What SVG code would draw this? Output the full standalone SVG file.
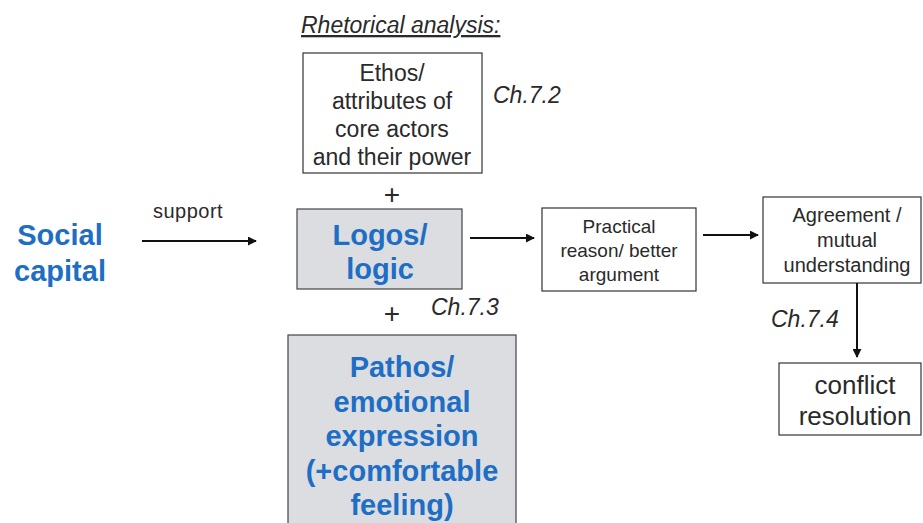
<svg xmlns="http://www.w3.org/2000/svg" width="923" height="523" viewBox="0 0 923 523">
  <defs>
    <marker id="arrow" viewBox="0 0 10 10" refX="9" refY="5" markerWidth="9" markerHeight="9" markerUnits="userSpaceOnUse" orient="auto">
      <path d="M0,0 L10,5 L0,10 z" fill="#111"/>
    </marker>
    <style>
      text { font-family: "Liberation Sans", Arial, sans-serif; fill: #2a2a2a; text-anchor: middle; }
      .box { fill: #ffffff; stroke: #333; stroke-width: 1.2; }
      .gray { fill: #dcdde0; stroke: #444; stroke-width: 1.2; }
      .blue { fill: #1d6ec4; font-weight: bold; font-size: 29px; }
      .ital { font-style: italic; font-size: 23px; text-anchor: start; }
      .conn { stroke: #111; stroke-width: 2; fill: none; marker-end: url(#arrow); }
    </style>
  </defs>

  <!-- heading -->
  <text x="301" y="33" class="ital" font-size="22" text-decoration="underline">Rhetorical analysis:</text>

  <g id="social-capital">
    <text x="60" y="245" class="blue">Social</text>
    <text x="60" y="281" class="blue">capital</text>
  </g>

  <g id="ethos">
    <rect x="303" y="53" width="179" height="120" class="box"/>
    <text x="392" y="81" font-size="23">Ethos/</text>
    <text x="392" y="109" font-size="23">attributes of</text>
    <text x="392" y="137" font-size="23">core actors</text>
    <text x="392" y="165" font-size="23">and their power</text>
  </g>
  <text x="493" y="103" class="ital">Ch.7.2</text>

  <text x="392" y="204" font-size="28">+</text>

  <g id="logos">
    <rect x="297" y="209" width="165" height="80" class="gray"/>
    <text x="380" y="245" class="blue">Logos/</text>
    <text x="380" y="279" class="blue">logic</text>
  </g>

  <text x="392" y="323" font-size="28">+</text>
  <text x="431" y="315" class="ital">Ch.7.3</text>

  <g id="pathos">
    <rect x="288" y="335" width="228" height="200" class="gray"/>
    <text x="402" y="377" class="blue" font-size="30">Pathos/</text>
    <text x="402" y="412" class="blue" font-size="30">emotional</text>
    <text x="402" y="446" class="blue" font-size="30">expression</text>
    <text x="402" y="481" class="blue" font-size="30">(+comfortable</text>
    <text x="402" y="515" class="blue" font-size="30">feeling)</text>
  </g>

  <g id="practical">
    <rect x="542" y="208" width="154" height="83" class="box"/>
    <text x="619" y="233" font-size="19">Practical</text>
    <text x="619" y="257" font-size="19">reason/ better</text>
    <text x="619" y="281" font-size="19">argument</text>
  </g>

  <g id="agreement">
    <rect x="763" y="197" width="158" height="86" class="box"/>
    <text x="847" y="222" font-size="20">Agreement /</text>
    <text x="847" y="247" font-size="20">mutual</text>
    <text x="847" y="272" font-size="20">understanding</text>
  </g>
  <text x="771" y="327" class="ital">Ch.7.4</text>

  <g id="conflict">
    <rect x="779" y="363" width="142" height="72" class="box"/>
    <text x="855" y="394" font-size="26">conflict</text>
    <text x="855" y="425" font-size="26">resolution</text>
  </g>

  <g id="connectors">
    <text x="188" y="218" font-size="20" letter-spacing="0.5">support</text>
    <line x1="142" y1="241" x2="256" y2="241" class="conn"/>
    <line x1="470" y1="238" x2="534" y2="238" class="conn"/>
    <line x1="703" y1="235" x2="758" y2="235" class="conn"/>
    <line x1="857" y1="283" x2="857" y2="357" class="conn"/>
  </g>
</svg>
